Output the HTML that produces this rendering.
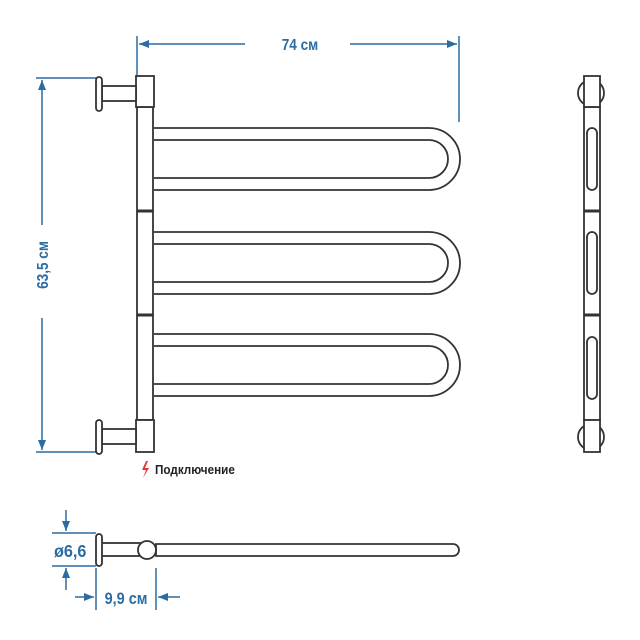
<!DOCTYPE html>
<html><head><meta charset="utf-8"><style>body{margin:0;background:#fff}svg{display:block}</style></head><body>
<svg width="640" height="640" viewBox="0 0 640 640" xmlns="http://www.w3.org/2000/svg" font-family="Liberation Sans, sans-serif">
<defs>
<marker id="a" markerWidth="10" markerHeight="8" refX="10" refY="4" orient="auto" markerUnits="userSpaceOnUse"><path d="M0,0 L10,4 L0,8 z" fill="#2b6ca3"/></marker>
</defs>
<g stroke="#2b6ca3" stroke-width="1.5" fill="none">
<line x1="137" y1="36" x2="137" y2="76"/><line x1="459" y1="36" x2="459" y2="122"/>
<line x1="245" y1="44" x2="139" y2="44" marker-end="url(#a)"/>
<line x1="350" y1="44" x2="457" y2="44" marker-end="url(#a)"/>
<line x1="36" y1="78" x2="96" y2="78"/><line x1="36" y1="452" x2="96" y2="452"/>
<line x1="42" y1="225" x2="42" y2="80" marker-end="url(#a)"/>
<line x1="42" y1="318" x2="42" y2="450" marker-end="url(#a)"/>
<line x1="52" y1="533" x2="96" y2="533"/><line x1="52" y1="566" x2="96" y2="566"/>
<line x1="66" y1="510" x2="66" y2="531" marker-end="url(#a)"/>
<line x1="66" y1="590" x2="66" y2="568" marker-end="url(#a)"/>
<line x1="96" y1="568" x2="96" y2="610"/><line x1="156" y1="568" x2="156" y2="610"/>
<line x1="75" y1="597" x2="94" y2="597" marker-end="url(#a)"/>
<line x1="180" y1="597" x2="158" y2="597" marker-end="url(#a)"/>
</g>
<g fill="#2b6ca3" font-weight="bold">
<text transform="translate(300,50) scale(0.85,1)" font-size="16" text-anchor="middle">74 см</text>
<text transform="translate(48,265) rotate(-90) scale(0.85,1)" font-size="16" text-anchor="middle">63,5 см</text>
<text transform="translate(54,557) scale(0.9,1)" font-size="18">ø6,6</text>
<text transform="translate(126,604) scale(0.85,1)" font-size="17" text-anchor="middle">9,9 см</text>
</g>
<g stroke="#333" stroke-width="1.8" fill="#fff">
<path d="M154,128 H429 A31,31 0 0 1 429,190 H154 M154,140 H429 A19,19 0 0 1 429,178 H154"/>
<path d="M154,232 H429 A31,31 0 0 1 429,294 H154 M154,244 H429 A19,19 0 0 1 429,282 H154"/>
<path d="M154,334 H429 A31,31 0 0 1 429,396 H154 M154,346 H429 A19,19 0 0 1 429,384 H154"/>
<rect x="137" y="107" width="16" height="313"/>
<line x1="137" y1="211" x2="153" y2="211" stroke-width="3"/>
<line x1="137" y1="315" x2="153" y2="315" stroke-width="3"/>
<rect x="136" y="76" width="18" height="31"/><rect x="136" y="420" width="18" height="32"/>
<rect x="102" y="86" width="34" height="15"/><rect x="96" y="77" width="6" height="34" rx="3"/>
<rect x="102" y="429" width="34" height="15"/><rect x="96" y="420" width="6" height="34" rx="3"/>
<circle cx="591" cy="93" r="13"/><circle cx="591" cy="437" r="13"/>
<rect x="584" y="107" width="16" height="313"/>
<rect x="584" y="76" width="16" height="31"/><rect x="584" y="420" width="16" height="32"/>
<line x1="584" y1="211" x2="600" y2="211" stroke-width="3"/><line x1="584" y1="315" x2="600" y2="315" stroke-width="3"/>
<rect x="587" y="128" width="10" height="62" rx="5"/><rect x="587" y="232" width="10" height="62" rx="5"/><rect x="587" y="337" width="10" height="62" rx="5"/>
<path d="M156,544 H453 A6,6 0 0 1 453,556 H156 Z"/>
<rect x="101" y="543" width="40" height="13"/>
<circle cx="147" cy="550" r="9"/>
<rect x="96" y="534" width="6" height="32" rx="3"/>
</g>
<path d="M146,461 L142,470 L146,470 L143,478 L149,468 L145,468 L148,461 Z" fill="#e53935"/>
<text transform="translate(155,474) scale(0.9,1)" font-size="13" font-weight="bold" fill="#222">Подключение</text>
</svg>
</body></html>
